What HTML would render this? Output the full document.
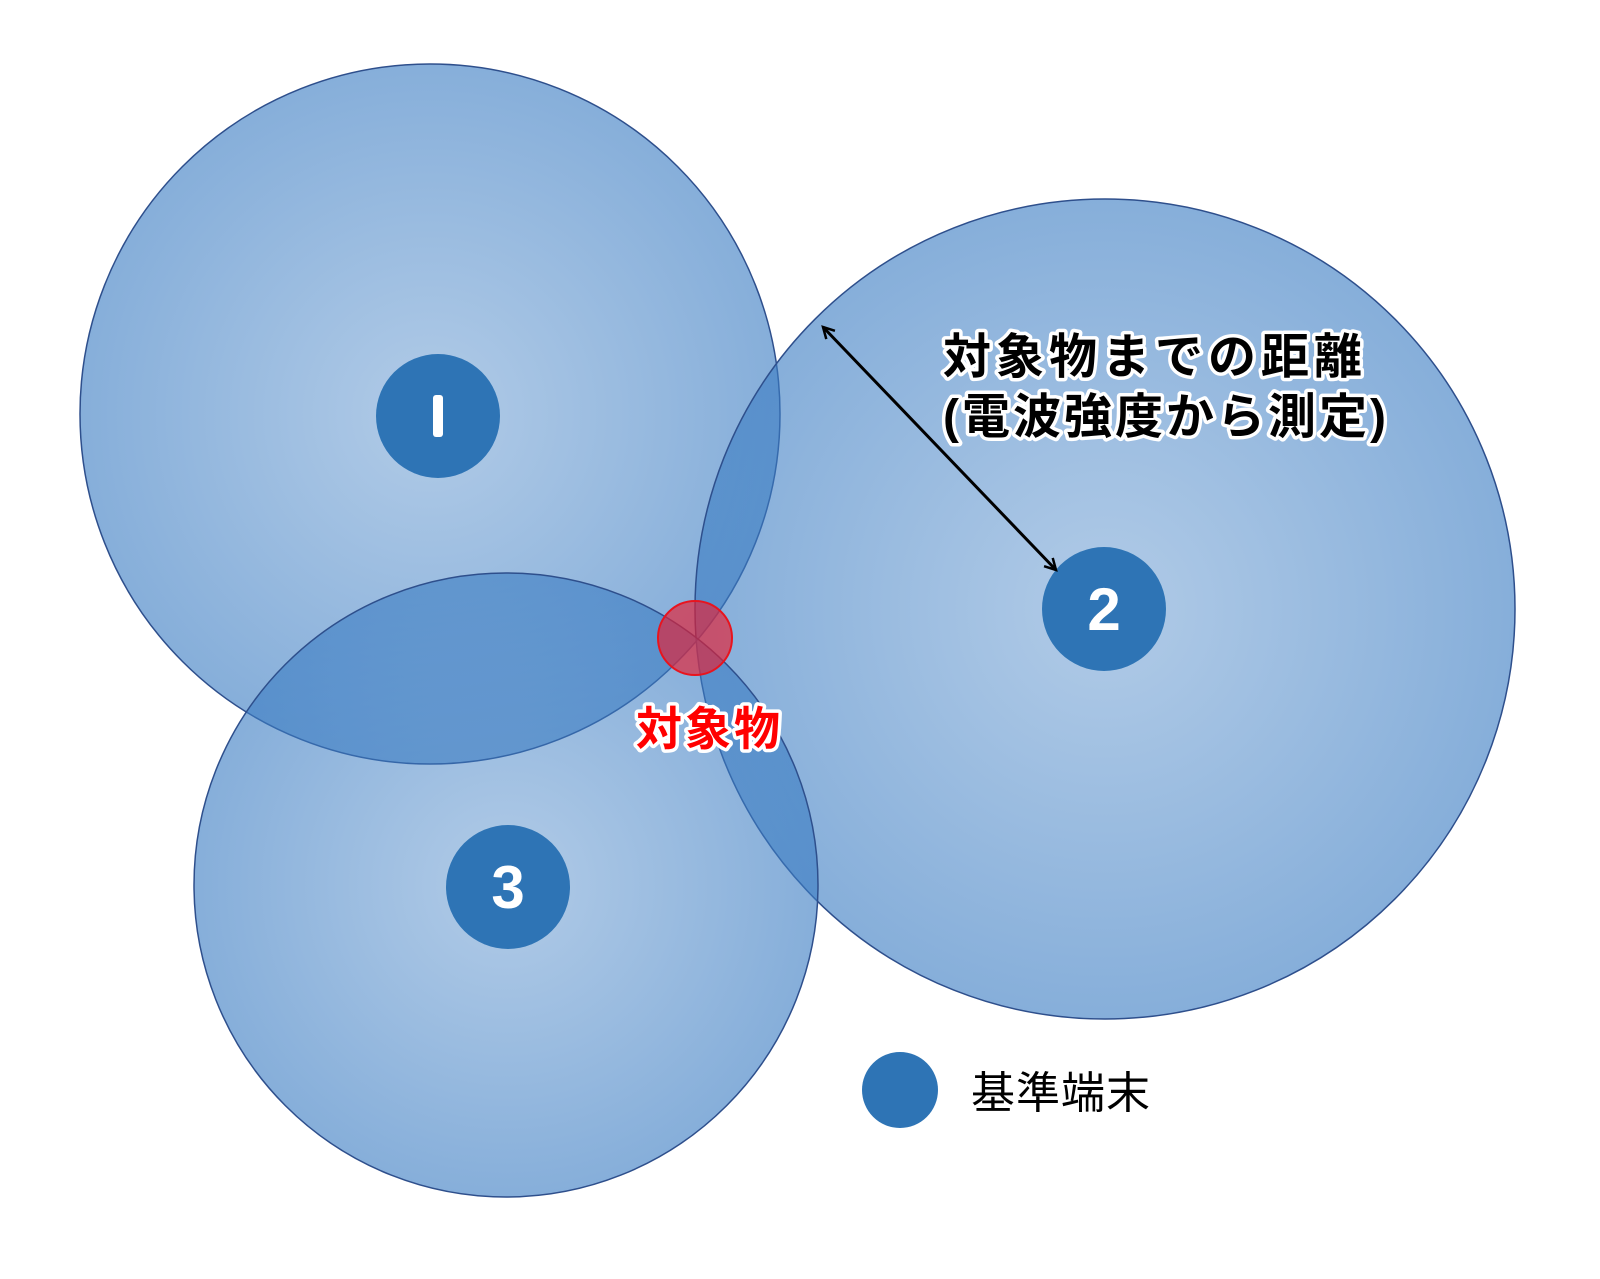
<!DOCTYPE html>
<html><head><meta charset="utf-8"><style>
html,body{margin:0;padding:0;background:#fff;}
svg text{font-family:"Liberation Sans","Noto Sans CJK JP",sans-serif;}
.g{paint-order:stroke;stroke:#fff;stroke-width:7;stroke-linejoin:round;}
</style></head><body>
<svg width="1600" height="1274" viewBox="0 0 1600 1274" xmlns="http://www.w3.org/2000/svg">
<defs>
<radialGradient id="rg">
<stop offset="0" stop-color="rgb(60,125,195)" stop-opacity="0.40"/>
<stop offset="1" stop-color="rgb(60,125,195)" stop-opacity="0.62"/>
</radialGradient>
<marker id="ah" markerWidth="16" markerHeight="16" refX="13" refY="8" orient="auto-start-reverse" markerUnits="userSpaceOnUse">
<path d="M2,2 L13,8 L2,14" fill="none" stroke="#000" stroke-width="2.5"/>
</marker>
</defs>
<circle cx="430" cy="414" r="350" fill="url(#rg)" stroke="#2e4f8c" stroke-width="1.5"/>
<circle cx="1105" cy="609" r="410" fill="url(#rg)" stroke="#2e4f8c" stroke-width="1.5"/>
<circle cx="506" cy="885" r="312" fill="url(#rg)" stroke="#2e4f8c" stroke-width="1.5"/>
<circle cx="695" cy="638" r="37" fill="rgba(230,30,50,0.65)" stroke="#e8141e" stroke-width="2"/>
<circle cx="438" cy="416" r="62" fill="#2e74b5"/>
<circle cx="1104" cy="609" r="62" fill="#2e74b5"/>
<circle cx="508" cy="887" r="62" fill="#2e74b5"/>
<rect x="433" y="395" width="10" height="42" rx="3" fill="#fff"/>
<text x="1104" y="630" font-size="60" font-weight="bold" fill="#fff" text-anchor="middle">2</text>
<text x="508" y="908" font-size="60" font-weight="bold" fill="#fff" text-anchor="middle">3</text>
<line x1="823" y1="327" x2="1056" y2="570" stroke="#000" stroke-width="3" marker-start="url(#ah)" marker-end="url(#ah)"/>
<text class="g" x="943" y="373" font-size="48" font-weight="bold" letter-spacing="5" fill="#000">対象物までの距離</text>
<text class="g" x="943" y="433" font-size="48" font-weight="bold" letter-spacing="3" fill="#000">(電波強度から測定)</text>
<text class="g" x="636" y="745" font-size="46" font-weight="bold" fill="#f00" letter-spacing="3">対象物</text>
<circle cx="900" cy="1090" r="38" fill="#2e74b5"/>
<text x="971" y="1108" font-size="44" fill="#000" letter-spacing="1">基準端末</text>
</svg>
</body></html>
